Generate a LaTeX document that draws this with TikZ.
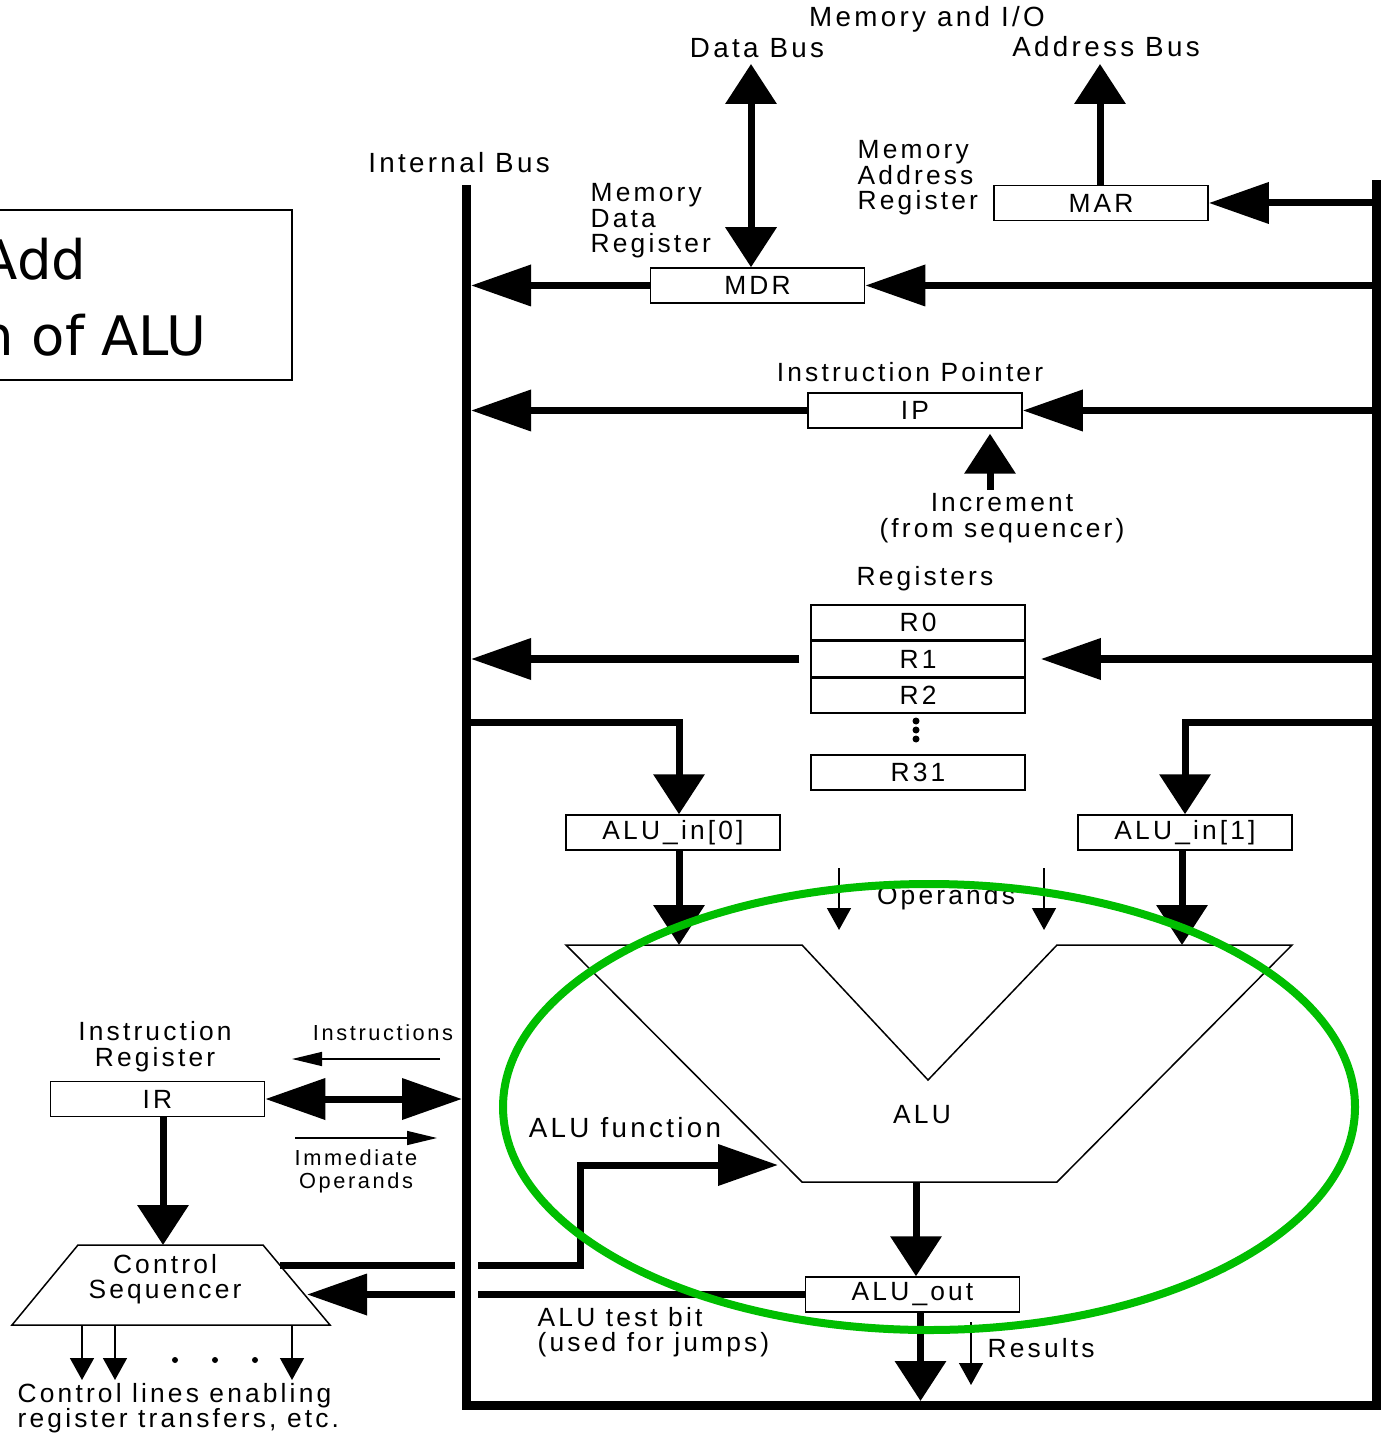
\documentclass[tikz,border=0pt]{standalone}
\usepackage{fontspec}
\setmainfont{Liberation Sans}[LetterSpace=12]
\newfontfamily\notefont{DejaVu Sans}
\usetikzlibrary{arrows.meta,positioning}
\definecolor{hilite}{RGB}{0,190,0}
\newcommand{\lblfont}{\fontsize{7.5}{7.3}\selectfont}
\newcommand{\bigfont}{\fontsize{7.9}{8.2}\selectfont}
\newcommand{\smallfont}{\fontsize{6.2}{6.5}\selectfont}
\newcommand{\notesize}{\notefont\fontsize{15.5}{18}\selectfont}

\begin{document}
\begin{tikzpicture}[x=1cm,y=-1cm,
    reg/.style={draw,line width=0.015cm,minimum width=2.14cm,minimum height=0.35cm,inner sep=0pt,font=\lblfont},
    lbl/.style={font=\lblfont,inner sep=0pt},
    bus/.style={line width=0.09cm},
    wire/.style={line width=0.07cm},
    fine/.style={line width=0.015cm},
    bigH/.tip={Triangle[length=6mm,width=4mm]},
    bigV/.tip={Triangle[length=4mm,width=5mm]},
    smH/.tip={Triangle[length=3mm,width=1.4mm]},
    smV/.tip={Triangle[length=2.2mm,width=2.4mm]}]
    \useasboundingbox (0,0) rectangle (13.81,14.36);

    % bus edges
    \coordinate (lbus) at (4.71,0);
    \coordinate (lbusL) at (4.62,0);
    \coordinate (rbus) at (13.72,0);

    % note box
    \draw[line width=0.02cm] (-0.5,2.10) rectangle (2.92,3.80);
    \node[font=\notesize,anchor=base east,inner sep=0pt] (noteA) at (0.87,2.80) {Add};
    \node[font=\notesize,anchor=base east,inner sep=0pt] (noteB) at (2.07,3.56) {n of ALU};

    % registers
    \node[reg] (mar) at (11.01,2.03) {MAR};
    \node[reg] (mdr) at (7.575,2.855) {MDR};
    \node[reg] (ip) at (9.15,4.105) {IP};
    \node[reg] (r0) at (9.18,6.225) {R0};
    \node[reg,below=0pt of r0] (r1) {R1};
    \node[reg,below=0pt of r1] (r2) {R2};
    \node[reg] (r31) at (9.18,7.725) {R31};
    \node[reg] (ain0) at (6.73,8.325) {ALU\_in[0]};
    \node[reg] (ain1) at (11.85,8.325) {ALU\_in[1]};
    \node[reg] (aout) at (9.125,12.945) {ALU\_out};
    \node[reg] (ir) at (1.575,10.99) {IR};
    \foreach \y in {7.21,7.30,7.39}
        \fill (9.16,\y) circle (0.035);

    % labels
    \node[lbl,font=\bigfont] (ibus) at (4.59,1.63) {Internal Bus};
    \node[lbl,font=\bigfont] (memio) at (9.27,0.19) {Memory and I/O};
    \node[lbl,font=\bigfont] (dlbl) at (7.57,0.48) {Data Bus};
    \node[lbl,font=\bigfont] (albl) at (11.06,0.47) {Address Bus};
    \node[lbl,align=left,anchor=west] (marlbl) at (8.57,1.78) {Memory\\Address\\Register};
    \node[lbl,align=left,anchor=west] (mdrlbl) at (5.90,2.21) {Memory\\Data\\Register};
    \node[lbl] (iplbl) at (9.10,3.72) {Instruction Pointer};
    \node[lbl,align=center] (inclbl) at (10.02,5.18) {Increment\\(from sequencer)};
    \node[lbl] (reglbl) at (9.25,5.79) {Registers};
    \node[lbl] (oplbl) at (9.46,8.98) {Operands};
    \node[lbl] (alu) at (9.22,11.15) {ALU};
    \node[lbl,font=\bigfont] (fnlbl) at (6.25,11.28) {ALU function};
    \node[lbl,align=left,anchor=west] (tstlbl) at (5.37,13.32) {ALU test bit\\(used for jumps)};
    \node[lbl,anchor=west] (reslbl) at (9.87,13.48) {Results};
    \node[lbl,align=center] (irlbl) at (1.55,10.47) {Instruction\\Register};
    \node[lbl,font=\smallfont] (inslbl) at (3.83,10.33) {Instructions};
    \node[lbl,font=\smallfont,align=center] (immlbl) at (3.56,11.71) {Immediate\\Operands};
    \node[lbl,align=left,anchor=west] (ctllbl) at (0.17,14.08) {Control lines enabling\\register transfers, etc.};

    % ALU outline
    \coordinate (aluA) at (5.66,9.45);
    \coordinate (aluB) at (8.02,9.45);
    \coordinate (aluV) at (9.28,10.80);
    \coordinate (aluC) at (10.57,9.45);
    \coordinate (aluD) at (12.92,9.45);
    \coordinate (aluE) at (10.57,11.82);
    \coordinate (aluF) at (8.02,11.82);
    \coordinate (aluFn) at (7.78,11.65);
    \draw[fine] (aluA) -- (aluB) -- (aluV) -- (aluC) -- (aluD) -- (aluE) -- (aluF) -- cycle;

    % control sequencer
    \draw[fine] (0.78,12.45) -- (2.63,12.45) -- (3.30,13.25) -- (0.12,13.25) -- cycle;
    \node[lbl,align=center] (ctrl) at (1.65,12.79) {Control\\Sequencer};
    \coordinate (csTop) at (1.63,12.45);
    \coordinate (csR1) at (2.80,12.65);
    \coordinate (csR2) at (3.07,12.945);

    % memory side
    \coordinate (dtop) at (7.51,0.64);
    \coordinate (atop) at (11.00,0.64);
    \draw[wire,bigV-bigV] (dtop) -- (dtop |- mdr.north);
    \draw[wire,-bigV] (mar.north -| atop) -- (atop);
    \draw[wire,-bigH] (rbus |- mar) -- (mar.east);
    \draw[wire,-bigH] (rbus |- mdr) -- (mdr.east);
    \draw[wire,-bigH] (mdr.west) -- (lbus |- mdr);
    \draw[wire,-bigH] (rbus |- ip) -- (ip.east);
    \draw[wire,-bigH] (ip.west) -- (lbus |- ip);
    \coordinate (inc) at (9.90,4.90);
    \draw[wire,-bigV] (inc) -- ([yshift=-0.05cm]inc |- ip.south);
    \draw[wire,-bigH] ([xshift=-0.11cm]r1.west) -- (lbus |- r1);
    \draw[wire,-bigH] (rbus |- r1) -- ([xshift=0.15cm]r1.east);

    % ALU paths
    \draw[wire,-bigV] (lbus |- 0,7.22) -| ([xshift=0.06cm]ain0.north);
    \draw[wire,-bigV] (rbus |- 0,7.22) -| (ain1.north);
    \draw[wire,-bigV] ([xshift=0.06cm]ain0.south) -- ([xshift=0.06cm]ain0.south |- aluA);
    \draw[wire,-bigV] ([xshift=-0.03cm]ain1.south) -- ([xshift=-0.03cm]ain1.south |- aluD);
    \coordinate (opA) at (8.39,8.68);
    \coordinate (opB) at (10.44,8.68);
    \draw[fine,-smV] (opA) -- (opA |- 0,9.30);
    \draw[fine,-smV] (opB) -- (opB |- 0,9.30);
    \draw[wire,-bigV] ([xshift=0.035cm]aout.north |- aluF) -- ([xshift=0.035cm]aout.north);
    \draw[wire,-bigV] ([xshift=0.08cm]aout.south) -- ([xshift=0.08cm]aout.south |- 0,14.01);
    \coordinate (res) at (9.71,13.22);
    \draw[fine,-smV] (res) -- (res |- 0,13.85);
    \draw[wire,-bigH] (csR1) -- (5.80,12.65) |- (aluFn);
    \draw[wire,-bigH] (aout.west) -- (csR2);

    % instruction register
    \draw[wire,bigH-bigH] (ir.east) -- (lbusL |- ir);
    \draw[wire,-bigV] (ir.south -| csTop) -- (csTop);
    \draw[fine,-smH] (4.40,10.59) -- (2.92,10.59);
    \draw[fine,-smH] (2.95,11.38) -- (4.37,11.38);
    \foreach \x in {0.82,1.15,2.92}
        \draw[fine,-smV] (\x,13.25) -- (\x,13.80);
    \foreach \x in {1.75,2.15,2.55}
        \fill (\x,13.60) circle (0.03);

    % internal bus loop
    \draw[white,line width=0.23cm] (4.665,12.50) -- (4.665,13.10);
    \draw[bus] (4.665,1.85) -- (4.665,14.055) -- (13.765,14.055) -- (13.765,1.80);

    % highlight
    \draw[hilite,line width=0.08cm] (9.29,11.07) ellipse (4.26 and 2.23);
\end{tikzpicture}
\end{document}
